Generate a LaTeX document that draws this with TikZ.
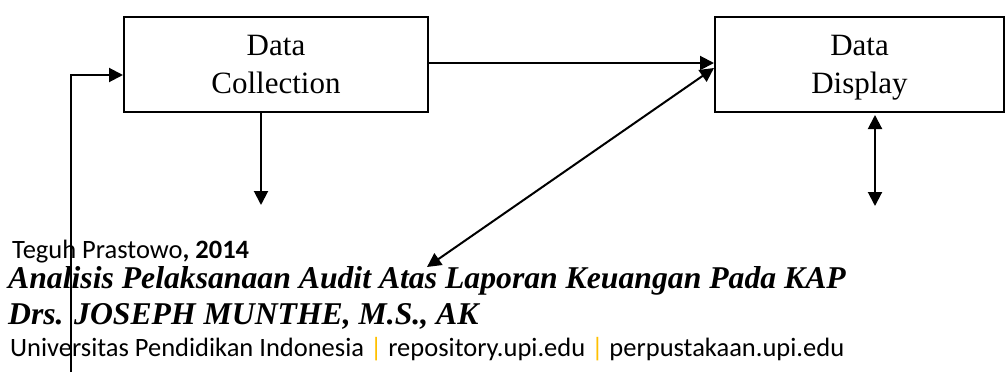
\documentclass[tikz,border=0pt]{standalone}
\usepackage{fontspec}
\setmainfont{Liberation Serif}
\newfontfamily\calibrifont{Carlito}
\usetikzlibrary{arrows.meta}
\definecolor{bargold}{RGB}{255,192,0}
\newcommand{\nodepth}[1]{\raisebox{0pt}[\height][0pt]{#1}}
\begin{document}
\begin{tikzpicture}[x=1pt,y=-1pt,
 boxnode/.style={draw,line width=2pt,minimum height=95pt,inner sep=0pt,align=center,font=\fontsize{31}{38}\selectfont},
 conn/.style={line width=2pt,-{Triangle[length=14pt,width=14pt]}},
 dconn/.style={line width=2pt,{Triangle[length=14pt,width=14pt]}-{Triangle[length=14pt,width=14pt]}},
 sanstext/.style={anchor=base west,inner sep=0pt,font=\calibrifont\fontsize{26.5}{30}\selectfont},
 titletext/.style={anchor=base west,inner sep=0pt,font=\fontsize{31.7}{36}\selectfont\bfseries\itshape}]
\useasboundingbox (0,0) rectangle (1006,372);
\node[boxnode,minimum width=304pt] (b1) at (276,64.5) {Data\\\nodepth{Collection}};
\node[boxnode,minimum width=289pt] (b2) at (859.5,64.5) {Data\\\nodepth{Display}};
\node[sanstext] (t1) at (12,258) {Teguh Prastowo\textbf{, 2014}};
\node[titletext] (t2) at (8,288) {Analisis Pelaksanaan Audit Atas Laporan Keuangan Pada KAP};
\node[titletext] (t3) at (8,324) {Drs. JOSEPH MUNTHE, M.S., AK};
\node[sanstext] (t4) at (10,356) {Universitas Pendidikan Indonesia \textcolor{bargold}{|} repository.upi.edu \textcolor{bargold}{|} perpustakaan.upi.edu};
\coordinate (fb) at (71,372);
\coordinate (d1) at (261,205);
\coordinate (d2) at (875,206);
\coordinate (tipA) at (427,267);
\draw[conn] (fb) |- ([yshift=-10.5pt]b1.west);
\draw[conn] ([yshift=1.5pt]b1.east) -- ([yshift=1.5pt]b2.west);
\draw[conn] (b1.south -| d1) -- (d1);
\draw[dconn,shorten <=2pt] (b2.south -| d2) -- (d2);
\draw[dconn] (tipA) -- ([yshift=-3.5pt]b2.west);
\end{tikzpicture}
\end{document}
